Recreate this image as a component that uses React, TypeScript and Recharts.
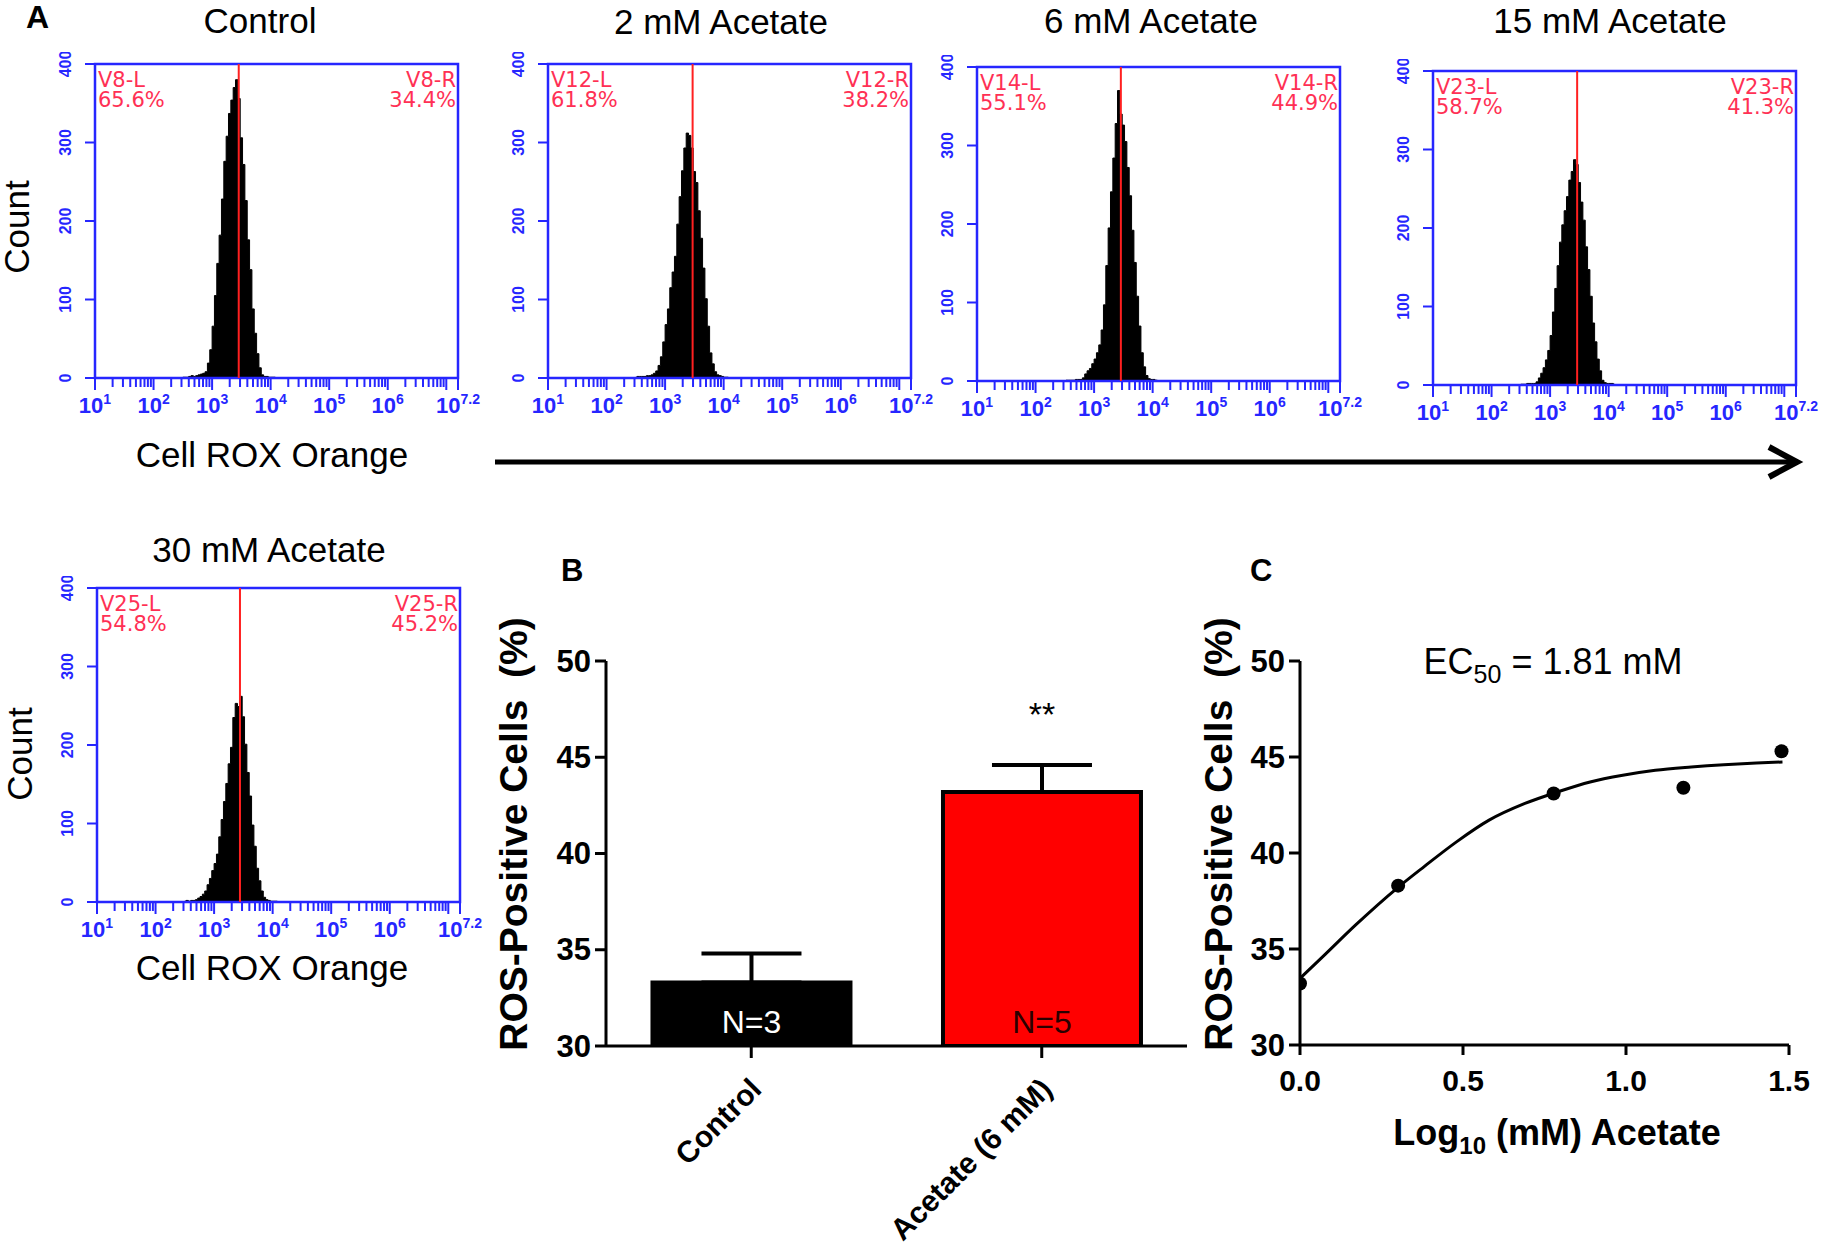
import React from 'react';
import {
  AreaChart, Area, BarChart, Bar, Cell, ErrorBar, LabelList, ComposedChart, Line, Scatter,
  XAxis, YAxis, ReferenceArea, ReferenceLine,
} from 'recharts';

// ---------------- data ----------------
// histogram bins: log10 of Cell ROX Orange intensity
const binLog = [2.50, 2.54, 2.58, 2.62, 2.66, 2.70, 2.74, 2.78, 2.82, 2.86, 2.90, 2.94, 2.98, 3.02, 3.06, 3.10, 3.14, 3.18, 3.22, 3.26, 3.30, 3.34, 3.38, 3.42, 3.46, 3.50, 3.54, 3.58, 3.62, 3.66, 3.70, 3.74, 3.78, 3.82, 3.86, 3.90, 3.94, 3.98, 4.02, 4.06, 4.10];
const histControl = [1, 1, 1, 2, 3, 2, 3, 4, 5, 6, 8, 19, 36, 66, 105, 146, 182, 228, 276, 308, 337, 354, 370, 380, 356, 306, 272, 226, 176, 138, 88, 57, 31, 13, 4, 2, 2, 1, 1, 1, 0];
const hist2mM = [1, 2, 2, 2, 2, 3, 3, 4, 6, 9, 16, 27, 46, 68, 88, 115, 135, 155, 196, 231, 264, 293, 312, 309, 293, 263, 249, 213, 178, 140, 101, 66, 32, 18, 8, 4, 3, 2, 1, 1, 0];
const hist6mM = [0, 1, 1, 1, 1, 2, 2, 2, 4, 9, 13, 16, 22, 28, 36, 46, 65, 97, 147, 195, 241, 284, 328, 370, 340, 326, 305, 272, 236, 192, 151, 108, 70, 36, 18, 7, 3, 2, 2, 1, 0];
const hist15mM = [1, 1, 1, 2, 2, 2, 2, 4, 9, 15, 22, 32, 44, 63, 93, 123, 152, 182, 204, 222, 240, 261, 272, 287, 281, 258, 233, 210, 176, 147, 113, 79, 55, 33, 18, 6, 3, 2, 2, 2, 1];
const hist30mM = [1, 2, 1, 2, 2, 3, 5, 7, 10, 14, 22, 30, 40, 49, 61, 83, 105, 128, 151, 176, 197, 235, 253, 249, 262, 236, 201, 165, 135, 98, 71, 43, 27, 14, 6, 3, 2, 1, 1, 1, 0];
const histCounts = [histControl, hist2mM, hist6mM, hist15mM, hist30mM];

const panelTitles = ['Control', '2 mM Acetate', '6 mM Acetate', '15 mM Acetate', '30 mM Acetate'];
const gateNames = ['V8', 'V12', 'V14', 'V23', 'V25'];
const gateLeftPct = ['65.6%', '61.8%', '55.1%', '58.7%', '54.8%'];
const gateRightPct = ['34.4%', '38.2%', '44.9%', '41.3%', '45.2%'];
const gatePosLog = [3.455, 3.47, 3.457, 3.462, 3.442];

const countTicks = [0, 100, 200, 300, 400];
const decadeTicks = [1, 2, 3, 4, 5, 6, 7, 7.2];
const labelledDecades = [1, 2, 3, 4, 5, 6, 7.2];
const minorMultipliers = [2, 3, 4, 5, 6, 7, 8, 9];

// panel B
const groups = ['Control', 'Acetate (6 mM)'];
const rosMean = [33.3, 43.2];
const rosSem = [1.5, 1.4];
const groupN = ['N=3', 'N=5'];
const groupSig = ['', '**'];
const rosTicks = [30, 35, 40, 45, 50];

// panel C
const doseLog = [0, 0.301, 0.778, 1.176, 1.477];
const doseRos = [33.2, 38.3, 43.1, 43.4, 45.3];
const fitLog = [0, 0.07, 0.17, 0.30, 0.38, 0.48, 0.58, 0.69, 0.79, 0.89, 0.99, 1.09, 1.20, 1.30, 1.40, 1.48];
const fitRos = [33.47, 34.6, 36.24, 38.2, 39.28, 40.58, 41.71, 42.58, 43.18, 43.7, 44.05, 44.31, 44.48, 44.6, 44.69, 44.74];
const doseTicks = [0, 0.5, 1, 1.5];

// ---------------- styles / layout ----------------
const FONT = '"Liberation Sans", Arial, Helvetica, sans-serif';
const GATE_FONT = '"DejaVu Sans", Verdana, sans-serif';
const BLUE = '#2626ff';
const GATE_RED = '#ff3054';
const LINE_RED = '#ff2020';
const barFill = ['#000000', '#ff0000'];
const nColor = ['#ffffff', '#2a0000'];

const histLayout = [
  { left: 95, top: 64, titleX: 260, titleY: 33 },
  { left: 548, top: 64, titleX: 721, titleY: 34 },
  { left: 977, top: 67, titleX: 1151, titleY: 33 },
  { left: 1433, top: 71, titleX: 1610, titleY: 33 },
  { left: 97, top: 588, titleX: 269, titleY: 562 },
];
const PW = 363;
const PH = 314;
const HM = { left: 70, top: 12, right: 30, bottom: 50 };

const logTicks: number[] = (() => {
  const t: number[] = [...decadeTicks];
  for (let d = 1; d <= 6; d++) minorMultipliers.forEach((k) => t.push(d + Math.log10(k)));
  return t.sort((a, b) => a - b);
})();

// ---------------- tick renderers ----------------
const HistXTick = (props: any) => {
  const { x, y, payload } = props;
  const v = payload.value;
  const major = decadeTicks.includes(v);
  const labelled = labelledDecades.includes(v);
  return (
    <g>
      <line x1={x} y1={y} x2={x} y2={y + (major ? 12 : 9)} stroke={BLUE} strokeWidth={2} />
      {labelled && (
        <text x={x} y={y + 35} textAnchor="middle" fill={BLUE} fontFamily={FONT} fontWeight="bold" fontSize={22}>
          10<tspan fontSize={14} dy={-9}>{v === 7.2 ? '7.2' : String(v)}</tspan>
        </text>
      )}
    </g>
  );
};

const HistYTick = (props: any) => {
  const { x, y, payload } = props;
  return (
    <g>
      <line x1={x - 10} y1={y} x2={x} y2={y} stroke={BLUE} strokeWidth={2} />
      <text transform={`translate(${x - 30},${y}) rotate(-90)`} textAnchor="middle" dominantBaseline="central"
        fill={BLUE} fontFamily={FONT} fontWeight="bold" fontSize={16}>{payload.value}</text>
    </g>
  );
};

const RosYTick = (props: any) => {
  const { x, y, payload } = props;
  return (
    <g>
      <line x1={x - 11} y1={y} x2={x} y2={y} stroke="#000" strokeWidth={3} />
      <text x={x - 15} y={y} textAnchor="end" dominantBaseline="central" fill="#000"
        fontFamily={FONT} fontWeight="bold" fontSize={31}>{payload.value}</text>
    </g>
  );
};

const BarXTick = (props: any) => {
  const { x, y, payload } = props;
  return (
    <g>
      <line x1={x} y1={y} x2={x} y2={y + 12} stroke="#000" strokeWidth={3} />
      <text transform={`translate(${x + 12},${y + 45}) rotate(-45)`} textAnchor="end" fill="#000"
        fontFamily={FONT} fontWeight="bold" fontSize={30}>{payload.value}</text>
    </g>
  );
};

const DoseXTick = (props: any) => {
  const { x, y, payload } = props;
  return (
    <g>
      <line x1={x} y1={y} x2={x} y2={y + 10} stroke="#000" strokeWidth={3} />
      <text x={x} y={y + 46} textAnchor="middle" fill="#000" fontFamily={FONT} fontWeight="bold" fontSize={30}>
        {Number(payload.value).toFixed(1)}
      </text>
    </g>
  );
};

function GateText({ viewBox, idx }: any) {
  if (!viewBox) return null;
  const { x, y, width } = viewBox;
  const st = { fill: GATE_RED, fontFamily: GATE_FONT, fontSize: 21 };
  return (
    <g>
      <text x={x + 3} y={y + 23} {...st}>{gateNames[idx]}-L</text>
      <text x={x + 3} y={y + 43} {...st}>{gateLeftPct[idx]}</text>
      <text x={x + width - 2} y={y + 23} textAnchor="end" {...st}>{gateNames[idx]}-R</text>
      <text x={x + width - 2} y={y + 43} textAnchor="end" {...st}>{gateRightPct[idx]}</text>
    </g>
  );
}

function Histogram({ idx }: { idx: number }) {
  const lay = histLayout[idx];
  const data = binLog.map((x, i) => ({ x, count: histCounts[idx][i] }));
  const W = HM.left + PW + HM.right;
  const H = HM.top + PH + HM.bottom;
  return (
    <div style={{ position: 'absolute', left: lay.left - HM.left, top: lay.top - HM.top }}>
      <AreaChart width={W} height={H} data={data}
        margin={{ left: HM.left - 1, top: HM.top, right: HM.right, bottom: HM.bottom - 1 }}>
        <XAxis type="number" dataKey="x" domain={[1, 7.2]} ticks={logTicks} interval={0} height={1}
          tickSize={0} tickMargin={0} tickLine={false} axisLine={false} tick={HistXTick} allowDataOverflow />
        <YAxis type="number" domain={[0, 400]} ticks={countTicks} interval={0} width={1}
          tickSize={0} tickMargin={0} tickLine={false} axisLine={false} tick={HistYTick} allowDataOverflow />
        <Area type="step" dataKey="count" stroke="#000" strokeWidth={1} fill="#000" fillOpacity={1}
          isAnimationActive={false} />
        <ReferenceLine x={gatePosLog[idx]} stroke={LINE_RED} strokeWidth={2} />
        <ReferenceArea x1={1} x2={7.2} y1={0} y2={400} fill="none" fillOpacity={0} stroke={BLUE} strokeWidth={2.5}
          label={(p: any) => <GateText viewBox={p.viewBox} idx={idx} />} />
      </AreaChart>
    </div>
  );
}

const vbOf = (p: any) => {
  const vb = p.viewBox || {};
  return {
    x: Number(p.x ?? vb.x), y: Number(p.y ?? vb.y),
    width: Number(p.width ?? vb.width), height: Number(p.height ?? vb.height),
  };
};

const NLabel = (p: any) => {
  const { x, y, width, height } = vbOf(p);
  return (
    <text x={x + width / 2} y={y + height - 13} textAnchor="middle" fontFamily={FONT} fontSize={32}
      fill={nColor[p.index]}>{p.value}</text>
  );
};

const SigLabel = (p: any) => {
  if (!p.value) return null;
  const { x, y, width } = vbOf(p);
  return (
    <text x={x + width / 2} y={y - 66} textAnchor="middle" fontFamily={FONT} fontSize={34} fill="#000">{p.value}</text>
  );
};

function RosBarChart() {
  const data = groups.map((g, i) => ({ g, mean: rosMean[i], err: [0, rosSem[i]], n: groupN[i], sig: groupSig[i] }));
  return (
    <div style={{ position: 'absolute', left: 480, top: 540 }}>
      <BarChart width={740} height={705} data={data} margin={{ left: 125, top: 121, right: 33, bottom: 198 }}
        barCategoryGap="16%">
        <XAxis dataKey="g" height={1} tickSize={0} tickMargin={0} tickLine={false} interval={0}
          axisLine={{ stroke: '#000', strokeWidth: 3 }} tick={BarXTick} />
        <YAxis type="number" domain={[30, 50]} ticks={rosTicks} interval={0} width={1} tickSize={0} tickMargin={0}
          tickLine={false} axisLine={{ stroke: '#000', strokeWidth: 3 }} tick={RosYTick} allowDataOverflow />
        <Bar dataKey="mean" stroke="#000" strokeWidth={4} isAnimationActive={false}>
          {data.map((_, i) => <Cell key={i} fill={barFill[i]} />)}
          <ErrorBar dataKey="err" width={50} stroke="#000" strokeWidth={4} direction="y" />
          <LabelList dataKey="n" content={NLabel} />
          <LabelList dataKey="sig" content={SigLabel} />
        </Bar>
      </BarChart>
    </div>
  );
}

const DotShape = (p: any) => <circle cx={p.cx} cy={p.cy} r={7} fill="#000" />;

function DoseChart() {
  const fit = fitLog.map((x, i) => ({ x, y: fitRos[i] }));
  const pts = doseLog.map((x, i) => ({ x, y: doseRos[i] }));
  return (
    <div style={{ position: 'absolute', left: 1180, top: 540 }}>
      <ComposedChart width={641} height={600} margin={{ left: 119, top: 121, right: 32, bottom: 94 }}>
        <XAxis type="number" dataKey="x" domain={[0, 1.5]} ticks={doseTicks} interval={0} height={1}
          tickSize={0} tickMargin={0} tickLine={false} axisLine={{ stroke: '#000', strokeWidth: 3 }}
          tick={DoseXTick} allowDataOverflow />
        <YAxis type="number" dataKey="y" domain={[30, 50]} ticks={rosTicks} interval={0} width={1}
          tickSize={0} tickMargin={0} tickLine={false} axisLine={{ stroke: '#000', strokeWidth: 3 }}
          tick={RosYTick} allowDataOverflow />
        <Line data={fit} dataKey="y" type="monotone" stroke="#000" strokeWidth={3} dot={false}
          isAnimationActive={false} />
        <Scatter data={pts} dataKey="y" fill="#000" shape={DotShape} isAnimationActive={false} />
      </ComposedChart>
    </div>
  );
}

export default function App() {
  const txt = { fontFamily: FONT, fill: '#000' };
  return (
    <div style={{ position: 'absolute', left: 0, top: 0, width: 1821, height: 1245, background: '#fff', overflow: 'hidden' }}>
      {histLayout.map((_, i) => <Histogram key={i} idx={i} />)}
      <RosBarChart />
      <DoseChart />
      <svg width={1821} height={1245} style={{ position: 'absolute', left: 0, top: 0, pointerEvents: 'none' }}>
        {/* panel letters */}
        <text x={26} y={28} {...txt} fontWeight="bold" fontSize={32}>A</text>
        <text x={561} y={581} {...txt} fontWeight="bold" fontSize={31}>B</text>
        <text x={1250} y={581} {...txt} fontWeight="bold" fontSize={31}>C</text>

        {/* histogram titles */}
        {histLayout.map((l, i) => (
          <text key={i} x={l.titleX} y={l.titleY} textAnchor="middle" {...txt} fontSize={35}>{panelTitles[i]}</text>
        ))}
        {/* Count labels */}
        <text transform="translate(29,227) rotate(-90)" textAnchor="middle" {...txt} fontSize={35}>Count</text>
        <text transform="translate(32,754) rotate(-90)" textAnchor="middle" {...txt} fontSize={35}>Count</text>
        {/* Cell ROX Orange */}
        <text x={272} y={467} textAnchor="middle" {...txt} fontSize={35}>Cell ROX Orange</text>
        <text x={272} y={980} textAnchor="middle" {...txt} fontSize={35}>Cell ROX Orange</text>

        {/* arrow */}
        <line x1={495} y1={462} x2={1794} y2={462} stroke="#000" strokeWidth={5} />
        <polyline points="1769,447 1797,462 1769,477" fill="none" stroke="#000" strokeWidth={6} />

        {/* panel B / C axis titles */}
        <text transform="translate(527,834) rotate(-90)" textAnchor="middle" {...txt} fontWeight="bold" fontSize={39}
          style={{ whiteSpace: 'pre' }}>{'ROS-Positive Cells  (%)'}</text>
        <text transform="translate(1232,834) rotate(-90)" textAnchor="middle" {...txt} fontWeight="bold" fontSize={39}
          style={{ whiteSpace: 'pre' }}>{'ROS-Positive Cells  (%)'}</text>
        <text x={1557} y={1145} textAnchor="middle" {...txt} fontWeight="bold" fontSize={36}>
          Log<tspan fontSize={24} dy={9}>10</tspan><tspan dy={-9}> (mM) Acetate</tspan>
        </text>
        <text x={1553} y={674} textAnchor="middle" {...txt} fontSize={36}>
          EC<tspan fontSize={25} dy={9}>50</tspan><tspan dy={-9}> = 1.81 mM</tspan>
        </text>
      </svg>
    </div>
  );
}
